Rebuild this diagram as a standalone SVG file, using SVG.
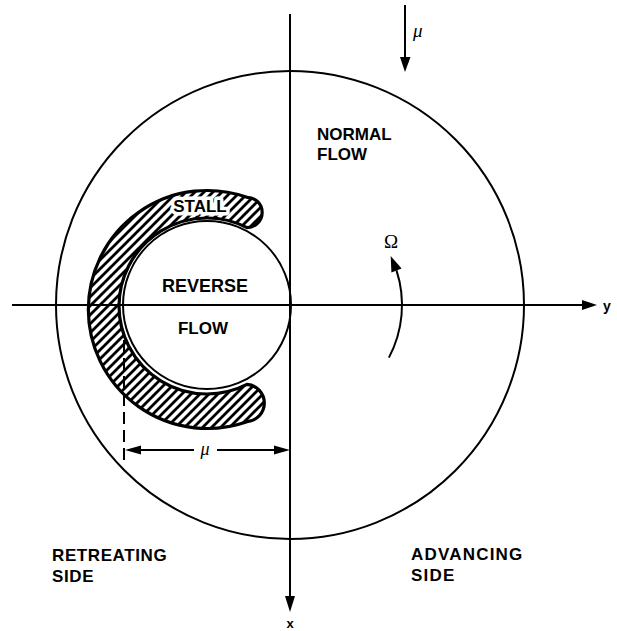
<svg xmlns="http://www.w3.org/2000/svg" width="617" height="631" viewBox="0 0 617 631">
<style>
.ln{fill:none;stroke:#000;stroke-width:2}
.lbl{font-family:"Liberation Sans",Arial,sans-serif;font-weight:bold;font-size:17px;fill:#000}
.sym{font-family:"Liberation Serif","Times New Roman",serif;fill:#000}
</style>
<defs>
<pattern id="hatch" width="9" height="9" patternUnits="userSpaceOnUse">
<path d="M-2,2 L2,-2 M0,9 L9,0 M7,11 L11,7" stroke="#000" stroke-width="2.8"/>
</pattern>
</defs>
<rect width="617" height="631" fill="#fff"/>
<g id="rotor-disk">
<circle cx="290" cy="305" r="234" class="ln"/>
</g>
<g id="stall">
<path d="M247,197.3 A119,119 0 1 0 247,421.7 A18.7,18.7 0 0 0 247,384.4 A88,88 0 1 1 247,227.6 A15.15,15.15 0 0 0 247,197.3 Z" fill="url(#hatch)" stroke="#000" stroke-width="3.2" stroke-linejoin="round"/>
<text x="200" y="212" class="lbl" text-anchor="middle" stroke="#fff" stroke-width="7" stroke-linejoin="round" paint-order="stroke">STALL</text>
</g>
<g id="reverse-flow">
<circle cx="207" cy="305" r="84" fill="#fff" stroke="#000" stroke-width="2"/>
<text x="205" y="292" class="lbl" text-anchor="middle" style="font-size:18px">REVERSE</text>
<text x="203" y="334" class="lbl" text-anchor="middle">FLOW</text>
</g>
<g id="connectors">
<line x1="12" y1="305" x2="584" y2="305" class="ln"/>
<polygon points="582,300 597,305 582,310" fill="#000"/>
<line x1="290" y1="14" x2="290" y2="598" class="ln"/>
<polygon points="285,596 295,596 290,612" fill="#000"/>
<line x1="405" y1="5" x2="405" y2="59" class="ln"/>
<polygon points="400,57 410.5,57 405,72" fill="#000"/>
<path d="M388.9,357.6 A112,112 0 0 0 396.5,270.4" class="ln"/>
<polygon points="390.7,255.9 401.6,268.4 391.4,272.4" fill="#000"/>
<line x1="124" y1="340" x2="124" y2="462" stroke="#000" stroke-width="2" stroke-dasharray="12 6"/>
<line x1="138" y1="450" x2="194" y2="450" class="ln"/>
<line x1="217" y1="450" x2="277" y2="450" class="ln"/>
<polygon points="125,450 141,445.5 141,454.5" fill="#000"/>
<polygon points="290,450 274,445.5 274,454.5" fill="#000"/>
</g>
<g id="labels">
<text x="317" y="140" class="lbl">NORMAL</text>
<text x="317" y="160" class="lbl">FLOW</text>
<text x="52" y="561" class="lbl" letter-spacing="0.6">RETREATING</text>
<text x="52" y="582" class="lbl" letter-spacing="0.6">SIDE</text>
<text x="411" y="560" class="lbl" letter-spacing="1.2">ADVANCING</text>
<text x="411" y="581" class="lbl" letter-spacing="1.2">SIDE</text>
<text x="290" y="628" class="lbl" text-anchor="middle" style="font-size:13px">x</text>
<text x="603" y="311" class="lbl" style="font-size:14px">y</text>
<text x="391" y="248" class="sym" text-anchor="middle" font-size="19">Ω</text>
<text x="413" y="37" class="sym" font-style="italic" font-size="19">μ</text>
<text x="205" y="455" class="sym" font-style="italic" font-size="18" text-anchor="middle">μ</text>
</g>
</svg>
